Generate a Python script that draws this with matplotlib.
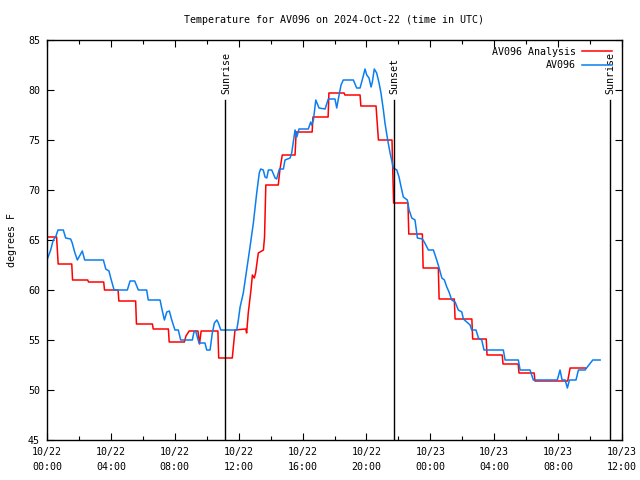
import matplotlib.pyplot as plt
import numpy as np

# hours since 2024-10-22 00:00 UTC
ana_hours = [0, 0.6, 0.7, 1.55, 1.6, 2.55, 2.6, 3.55, 3.6, 4.45, 4.5, 5.55, 5.6, 6.6,
             6.65, 7.6, 7.65, 8.6, 8.7, 8.9, 9.45, 9.55, 9.65, 10.7, 10.75, 11.6,
             11.77, 12.44, 12.5, 12.6, 12.77, 12.86, 12.98, 13.06, 13.17, 13.23, 13.55,
             13.62, 13.7, 14.48, 14.58, 14.73, 15.53, 15.6, 16.6, 16.65, 17.6, 17.65,
             18.6, 18.65, 19.6, 19.65, 20.6, 20.75, 21.6, 21.7, 22.6, 22.65, 23.5,
             23.55, 24.5, 24.55, 25.5, 25.55, 26.6, 26.65, 27.5, 27.55, 28.5, 28.55,
             29.5, 29.55, 30.5, 30.55, 31.6, 32.6, 32.75, 33.7]
ana_temp = [65.3, 65.3, 62.6, 62.6, 61.0, 61.0, 60.8, 60.8, 60.0, 60.0, 58.9, 58.9, 56.6, 56.6,
            56.1, 56.1, 54.8, 54.8, 55.4, 55.9, 55.9, 54.6, 55.9, 55.9, 53.2, 53.2,
            56.0, 56.1, 55.7, 57.7, 60.0, 61.5, 61.2, 61.7, 63.0, 63.7, 64.0,
            65.3, 70.5, 70.5, 72.0, 73.5, 73.5, 75.8, 75.8, 77.3, 77.3, 79.7,
            79.7, 79.5, 79.5, 78.4, 78.4, 75.0, 75.0, 68.7, 68.7, 65.6, 65.6,
            62.2, 62.2, 59.1, 59.1, 57.1, 57.1, 55.1, 55.1, 53.5, 53.5, 52.6,
            52.6, 51.7, 51.7, 50.9, 50.9, 50.9, 52.2, 52.2]

obs_hours = [0.0, 0.23, 0.39, 0.54, 0.69, 1.02, 1.17, 1.48, 1.58, 1.73, 1.9, 2.07, 2.21, 2.36,
             3.53, 3.68, 3.88, 3.99, 4.2, 5.03, 5.2, 5.49, 5.72, 6.24, 6.34, 7.08, 7.18,
             7.28, 7.35, 7.5, 7.66, 7.81, 8.01, 8.22, 8.37, 9.1, 9.2, 9.31, 9.41, 9.52,
             9.89, 10.0, 10.21, 10.35, 10.48, 10.63, 10.73, 10.88, 11.88, 11.98, 12.09,
             12.29, 12.5, 12.71, 12.92, 13.13, 13.29, 13.38, 13.54, 13.65, 13.76, 13.86,
             14.07, 14.28, 14.38, 14.55, 14.8, 14.9, 15.22, 15.32, 15.53, 15.64, 15.78,
             16.36, 16.51, 16.57, 16.68, 16.83, 17.03, 17.41, 17.61, 18.03, 18.14, 18.24,
             18.41, 18.55, 19.18, 19.39, 19.6, 19.77, 19.91, 20.02, 20.16, 20.29, 20.37,
             20.49, 20.64, 20.79, 20.91, 21.06, 21.16, 21.33, 21.48, 21.58, 21.68, 21.9,
             22.04, 22.17, 22.31, 22.56, 22.67, 22.84, 23.04, 23.19, 23.5, 23.62, 23.88,
             24.19, 24.4, 24.55, 24.72, 24.88, 25.03, 25.17, 25.34, 25.55, 25.75, 25.97,
             26.07, 26.49, 26.59, 26.86, 27.01, 27.22, 27.36, 28.57, 28.68, 29.51, 29.62,
             30.24, 30.45, 31.95, 32.12, 32.25, 32.44, 32.58, 32.71, 33.12, 33.27, 33.69,
             33.83, 34.17, 34.63]
obs_temp = [63.0, 64.0, 65.0, 65.3, 66.0, 66.0, 65.2, 65.1, 64.7, 63.8, 63.0, 63.5, 63.9, 63.0,
            63.0, 62.1, 61.9, 61.2, 60.0, 60.0, 60.9, 60.9, 60.0, 60.0, 59.0, 59.0, 58.2,
            57.5, 57.0, 57.8, 57.9, 57.0, 56.0, 56.0, 55.0, 55.0, 55.8, 55.9, 55.3, 54.7,
            54.7, 54.0, 54.0, 55.7, 56.7, 57.0, 56.7, 56.0, 56.0, 57.0, 58.3,
            59.7, 62.0, 64.3, 66.7, 69.7, 71.7, 72.1, 72.0, 71.3, 71.2, 72.0,
            72.0, 71.2, 71.1, 72.1, 72.1, 73.0, 73.2, 73.7, 76.0, 75.3, 76.1,
            76.1, 76.8, 76.5, 77.0, 79.0, 78.2, 78.1, 79.1, 79.1, 78.2, 79.1,
            80.5, 81.0, 81.0, 80.2, 80.2, 81.2, 82.1, 81.5, 81.2, 80.3, 80.8,
            82.1, 81.7, 80.7, 79.7, 78.0, 76.7, 75.0, 73.7, 73.0, 72.2, 72.0,
            71.3, 70.3, 69.3, 69.0, 68.0, 67.2, 67.0, 65.2, 65.1, 64.8, 64.0,
            64.0, 63.0, 62.2, 61.2, 61.0, 60.3, 59.8, 59.0, 58.8, 58.0, 57.8,
            57.1, 56.5, 56.0, 56.0, 55.2, 55.0, 54.0, 54.0, 53.0, 53.0, 52.0,
            52.0, 51.0, 51.0, 52.0, 51.0, 51.0, 50.2, 51.0, 51.0, 52.0, 52.0,
            52.3, 53.0, 53.0]

sun_hours = [11.15, 21.73, 35.25]
sun_labels = ['Sunrise', 'Sunset', 'Sunrise']

tick_hours = list(range(0, 37, 4))
tick_labels = ['10/22\n00:00', '10/22\n04:00', '10/22\n08:00', '10/22\n12:00', '10/22\n16:00',
               '10/22\n20:00', '10/23\n00:00', '10/23\n04:00', '10/23\n08:00', '10/23\n12:00']

plt.rcParams['font.family'] = 'DejaVu Sans Mono'
plt.rcParams['font.size'] = 7.2

fig = plt.figure(figsize=(6.4, 4.8), dpi=100)
ax = fig.add_axes([47/640, 40/480, 575/640, 400/480])

ax.plot(ana_hours, ana_temp, color='red', lw=1.1, label='AV096 Analysis')
ax.plot(obs_hours, obs_temp, color='#0a7ef0', lw=1.1, label='AV096')

for h, lab in zip(sun_hours, sun_labels):
    ax.plot([h, h], [45, 79], color='black', lw=1.0)
    ax.text(h + 0.05, 79.6, lab, rotation=90, ha='center', va='bottom')

ax.set_xlim(0, 36)
ax.set_ylim(45, 85)
ax.set_xticks(tick_hours)
ax.set_xticklabels(tick_labels, linespacing=1.6)
ax.set_xticks(np.arange(0, 37, 2), minor=True)
ax.set_yticks(np.arange(45, 86, 5))
ax.tick_params(direction='in', top=True, right=True, length=5, width=0.8, pad=5)
ax.tick_params(which='minor', direction='in', top=True, length=3, width=0.8)
for s in ax.spines.values():
    s.set_linewidth(1.0)

ax.set_ylabel('degrees F', labelpad=8)
ax.set_title('Temperature for AV096 on 2024-Oct-22 (time in UTC)', fontsize=7.2, pad=12)

ax.legend(loc='upper right', frameon=False, markerfirst=False, handlelength=3.0,
          borderaxespad=0.3, labelspacing=0.35, handletextpad=0.6,
          bbox_to_anchor=(0.994, 1.0), fontsize=7.2)

plt.savefig('out.png', dpi=100)
